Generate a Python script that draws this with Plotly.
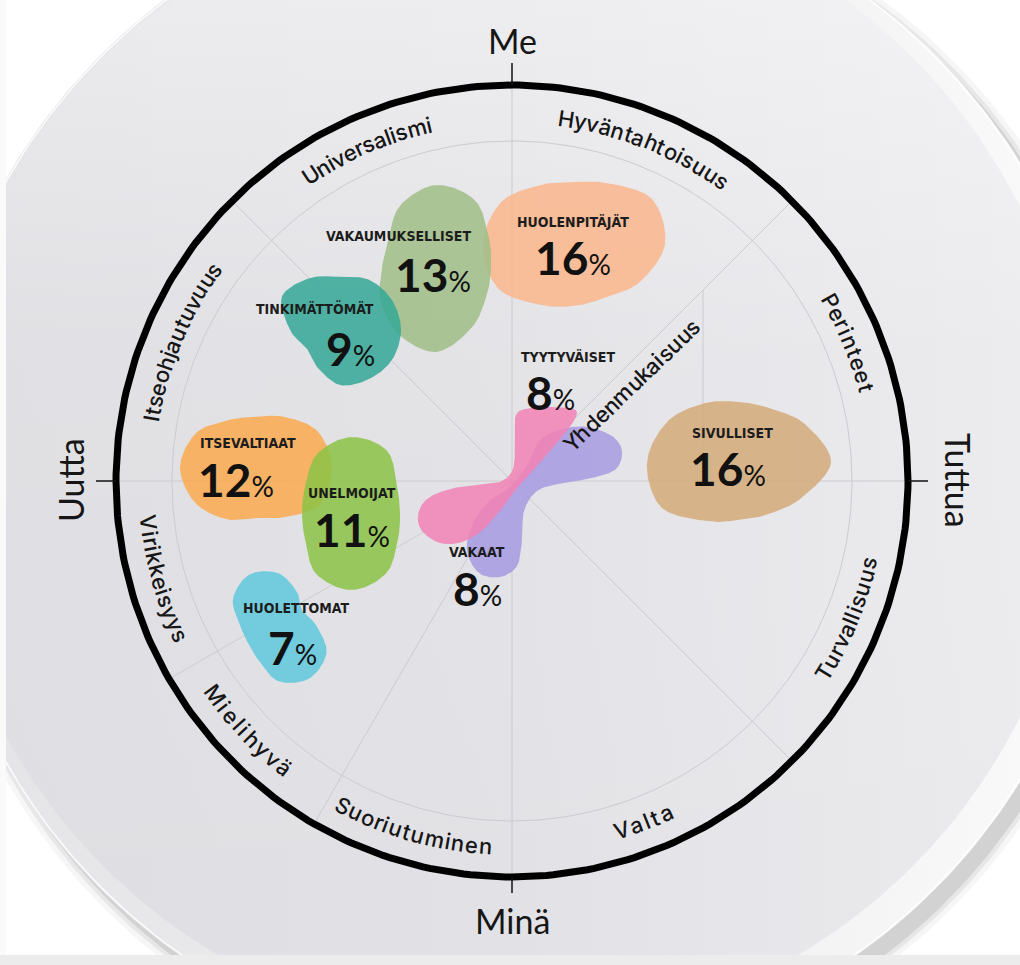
import math
import numpy as np
import plotly.graph_objects as go

W, H = 1020, 965

# ---------------- data ----------------
segments = ["HUOLENPITÄJÄT", "VAKAUMUKSELLISET", "TINKIMÄTTÖMÄT", "ITSEVALTIAAT",
            "UNELMOIJAT", "HUOLETTOMAT", "VAKAAT", "TYYTYVÄISET", "SIVULLISET"]
shares = [16, 13, 9, 12, 11, 7, 8, 8, 16]
segment_colors = ["#fab68c", "#a0be87", "#34a896", "#faaa50", "#8cc446",
                  "#5fc8dc", "#a59be1", "#f282b4", "#d4aa7a"]

values_outer = ["Universalismi", "Hyväntahtoisuus", "Perinteet", "Turvallisuus", "Valta",
                "Suoriutuminen", "Mielihyvä", "Virikkeisyys", "Itseohjautuvuus"]
value_inner = "Yhdenmukaisuus"
poles = ["Me", "Tuttua", "Minä", "Uutta"]

# ---------------- geometry / style ----------------
CX, CY = 512, 481
R_RING, R_INNER, R_TEXT = 396, 340, 366

value_arcs = {
    "Universalismi": (123.4, 103.1),
    "Hyväntahtoisuus": (81.5, 55.0),
    "Perinteet": (29.5, 14.7),
    "Turvallisuus": (-31.6, -13.0),
    "Valta": (-72.5, -65.1),
    "Suoriutuminen": (-117.5, -94.2),
    "Mielihyvä": (-144.2, -128.4),
    "Virikkeisyys": (-173.4, -155.0),
    "Itseohjautuvuus": (170.1, 144.7),
}
inner_line = ((572, 443), (692, 327))
spoke_angles = [45, 135, 210, 240, 315]

blob_geom = {
    "HUOLENPITÄJÄT": dict(c=(574, 244), r=[91, 90, 70, 62, 68, 84, 91, 88, 70, 62, 62, 76], tag=(573, 222), num=(573, 257)),
    "VAKAUMUKSELLISET": dict(c=(436, 268), r=[55, 61, 78, 83, 72, 55, 54, 64, 76, 84, 70, 58], tag=(398, 236), num=(433, 274)),
    "TINKIMÄTTÖMÄT": dict(c=(340, 330), r=[61, 60, 58, 53, 60, 67, 50, 38, 44, 55, 57, 60], tag=(315, 308), num=(350, 348)),
    "ITSEVALTIAAT": dict(c=(255, 467), r=[77, 72, 58, 50, 54, 68, 75, 70, 60, 51, 58, 75], tag=(248, 443), num=(236, 479)),
    "UNELMOIJAT": dict(c=(351, 513), r=[49, 53, 72, 76, 68, 53, 49, 53, 70, 77, 70, 54], tag=(352, 493), num=(352, 529)),
    "HUOLETTOMAT": dict(c=(278, 625), r=[38, 28, 38, 52, 58, 52, 38, 35, 40, 56, 62, 56], tag=(296, 608), num=(292, 647)),
    "VAKAAT": dict(c=(512, 481), pts=[(-2, 6), (14, -14), (28, -41), (50, -52), (75, -54), (100, -45), (110, -30),
                                      (104, -12), (80, -3), (50, 2), (25, 10), (12, 30), (10, 60), (5, 85), (-12, 96),
                                      (-33, 92), (-45, 70), (-40, 45), (-25, 22)], tag=(477, 552), num=(477, 588)),
    "TYYTYVÄISET": dict(c=(512, 481), pts=[(4, -66), (18, -73), (40, -74), (62, -72), (63, -62), (45, -38), (22, -12),
                                           (8, 3), (-6, 22), (-28, 48), (-50, 61), (-72, 62), (-90, 50), (-94, 34),
                                           (-85, 18), (-62, 8), (-35, 4), (-12, 1), (1, -12), (3, -40)],
                        tag=(568, 357), num=(550, 392)),
    "SIVULLISET": dict(c=(739, 462), r=[92, 76, 62, 60, 68, 82, 92, 90, 68, 58, 60, 72], tag=(732, 433), num=(728, 468)),
}

pole_pos = {"Me": ((512, 40), 0), "Tuttua": ((959, 480), 90), "Minä": ((512, 920), 0), "Uutta": ((70, 480), -90)}

TXT_FONT = "Inter, 'Noto Sans', sans-serif"
POLE_FONT = "Lato, 'Noto Sans', sans-serif"
NUM_FONT = "Lato, 'Noto Sans', sans-serif"
TAG_FONT = "'Liberation Sans Narrow', 'DejaVu Sans Condensed', 'Roboto', sans-serif"
INK = "#161616"

# approximate advance widths (em) of the label font
CW = {'a': .55, 'b': .60, 'c': .54, 'd': .60, 'e': .56, 'f': .36, 'g': .60, 'h': .59, 'i': .24, 'j': .24,
      'k': .52, 'l': .24, 'm': .89, 'n': .59, 'o': .58, 'p': .60, 'r': .37, 's': .51, 't': .35, 'u': .59,
      'v': .53, 'y': .53, 'ä': .55, 'ö': .58, 'I': .26, 'M': .85, 'P': .61, 'S': .60, 'T': .60, 'U': .68,
      'V': .66, 'Y': .64, 'H': .72}


def circle_xy(cx, cy, r, n=360):
    t = np.linspace(0, 2 * np.pi, n + 1)
    return cx + r * np.cos(t), cy - r * np.sin(t)


def smooth_closed(pts, n=20):
    P = np.array(pts, float)
    m = len(P)
    out = []
    for i in range(m):
        p0, p1, p2, p3 = P[(i - 1) % m], P[i], P[(i + 1) % m], P[(i + 2) % m]
        for t in np.linspace(0, 1, n, endpoint=False):
            t2, t3 = t * t, t * t * t
            out.append(0.5 * ((2 * p1) + (-p0 + p2) * t + (2 * p0 - 5 * p1 + 4 * p2 - p3) * t2
                              + (-p0 + 3 * p1 - 3 * p2 + p3) * t3))
    out.append(out[0])
    return np.array(out)


def norm_angle(a):
    return ((a + 180) % 360) - 180


fig = go.Figure()


def add_fill(x, y, color=None, gradient=None, opacity=1.0):
    kw = dict(x=x, y=y, mode="lines", line=dict(width=0), fill="toself", hoverinfo="skip",
              showlegend=False, opacity=opacity)
    if gradient is not None:
        kw["fillgradient"] = gradient
    else:
        kw["fillcolor"] = color
    fig.add_trace(go.Scatter(**kw))


def add_line(x, y, color, width):
    fig.add_trace(go.Scatter(x=x, y=y, mode="lines", line=dict(color=color, width=width),
                             hoverinfo="skip", showlegend=False))


# ---- plate ----
for r, a in [(600, 0.035), (595, 0.06), (591, 0.09)]:
    add_fill(*circle_xy(528, 484, r), color=f"rgba(0,0,0,{a})")
add_fill(*circle_xy(518, 472, 590),
         gradient=dict(type="horizontal", colorscale=[[0, "#e4e4e7"], [0.6, "#efeff1"], [1, "#fbfbfb"]]))
add_line(*circle_xy(518, 472, 588.5), "rgba(255,255,255,0.85)", 1.5)
wx, wy = circle_xy(508, 462, 572)
add_fill(wx, wy, gradient=dict(type="horizontal", colorscale=[[0, "#dedee2"], [0.5, "#e2e2e6"], [1, "#ececef"]]))
add_fill(wx, wy, gradient=dict(type="vertical", colorscale=[[0, "rgba(255,255,255,0)"], [0.6, "rgba(255,255,255,0.06)"],
                                                           [1, "rgba(255,255,255,0.5)"]]))

# ---- grid ----
GRID = "#cbcbd0"
add_line(*circle_xy(CX, CY, R_INNER), GRID, 1)
add_line([CX, CX], [CY - R_RING, CY + R_RING], GRID, 1)
add_line([CX - R_RING, CX + R_RING], [CY, CY], GRID, 1)
for a in spoke_angles:
    t = math.radians(a)
    add_line([CX, CX + (R_RING - 4) * math.cos(t)], [CY, CY - (R_RING - 4) * math.sin(t)], GRID, 1)
# partial vertical from the 45° spoke down to the horizontal axis
vx = 703
add_line([vx, vx], [CY - (vx - CX), CY], GRID, 1)

# ---- blobs ----
for name, col in zip(segments, segment_colors):
    g = blob_geom[name]
    cx, cy = g["c"]
    if "r" in g:
        pts = [(cx + rr * math.cos(math.radians(30 * i)), cy - rr * math.sin(math.radians(30 * i)))
               for i, rr in enumerate(g["r"])]
    else:
        pts = [(cx + dx, cy + dy) for dx, dy in g["pts"]]
    s = smooth_closed(pts)
    add_fill(s[:, 0], s[:, 1], color=col, opacity=0.86)

# ---- ring + ticks ----
add_line(*circle_xy(CX, CY, R_RING), "#000000", 7)
TK = "#111111"
add_line([CX, CX], [CY - R_RING, CY - R_RING - 22], TK, 1.5)
add_line([CX, CX], [CY + R_RING, CY + R_RING + 16], TK, 1.5)
add_line([CX - R_RING, CX - R_RING - 20], [CY, CY], TK, 1.5)
add_line([CX + R_RING, CX + R_RING + 20], [CY, CY], TK, 1.5)

# page strips
add_fill([0, 6, 6, 0, 0], [0, 0, H, H, 0], color="#fafafa")
add_fill([0, W, W, 0, 0], [955, 955, H, H, 955], color="#ececec")

annotations = []


def ann(x, y, text, size, family=TXT_FONT, angle=0, color=INK, weight=None):
    f = dict(family=family, size=size, color=color)
    if weight:
        f["weight"] = weight
    annotations.append(dict(x=x, y=y, xref="x", yref="y", text=text, showarrow=False,
                            textangle=norm_angle(angle), font=f, xanchor="center", yanchor="middle",
                            borderpad=0))


FS = 22
WT = 500

# curved value labels
for name in values_outer:
    a0, a1 = value_arcs[name]
    ws = [CW.get(c, 0.55) * FS for c in name]
    n = len(name)
    base = sum(ws) - ws[0] / 2 - ws[-1] / 2
    span = abs(a1 - a0) * math.pi / 180 * R_TEXT
    track = (span - base) / (n - 1)
    sign = -1 if a1 < a0 else 1
    acc = 0.0
    for i, ch in enumerate(name):
        if i > 0:
            acc += ws[i - 1] / 2 + ws[i] / 2 + track
        ang = a0 + sign * acc / R_TEXT * 180 / math.pi
        t = math.radians(ang)
        x = CX + R_TEXT * math.cos(t)
        y = CY - R_TEXT * math.sin(t)
        rot = 90 - ang if sign < 0 else -90 - ang
        ann(x, y, ch, FS, angle=rot, weight=WT)

# straight inner label
(x0, y0), (x1, y1) = inner_line
ws = [CW.get(c, 0.55) * FS for c in value_inner]
n = len(value_inner)
base = sum(ws) - ws[0] / 2 - ws[-1] / 2
L = math.hypot(x1 - x0, y1 - y0)
track = (L - base) / (n - 1)
ux, uy = (x1 - x0) / L, (y1 - y0) / L
ang_in = math.degrees(math.atan2(y1 - y0, x1 - x0))
acc = 0.0
for i, ch in enumerate(value_inner):
    if i > 0:
        acc += ws[i - 1] / 2 + ws[i] / 2 + track
    ann(x0 + ux * acc, y0 + uy * acc, ch, FS, angle=ang_in, weight=WT)

# poles
for p in poles:
    (x, y), rot = pole_pos[p]
    ann(x, y, p, 34, family=POLE_FONT, angle=rot)

# segment tags and shares
for name, v in zip(segments, shares):
    g = blob_geom[name]
    ann(g["tag"][0], g["tag"][1], f"<b>{name}</b>", 14, family=TAG_FONT, color="#1c1c1c")
    ann(g["num"][0], g["num"][1],
        f"<b>{v}</b><span style='font-size:28px;font-weight:400'>%</span>", 46, family=NUM_FONT, color="#111111")

fig.update_layout(
    width=W, height=H, margin=dict(l=0, r=0, t=0, b=0),
    paper_bgcolor="#ffffff", plot_bgcolor="#ffffff",
    xaxis=dict(range=[0, W], visible=False, showgrid=False, zeroline=False, fixedrange=True),
    yaxis=dict(range=[H, 0], visible=False, showgrid=False, zeroline=False, fixedrange=True),
    annotations=annotations, showlegend=False,
)

fig.write_html("out.html", config={"displayModeBar": False},
               post_script="document.body.style.margin='0';document.body.style.overflow='hidden';")
